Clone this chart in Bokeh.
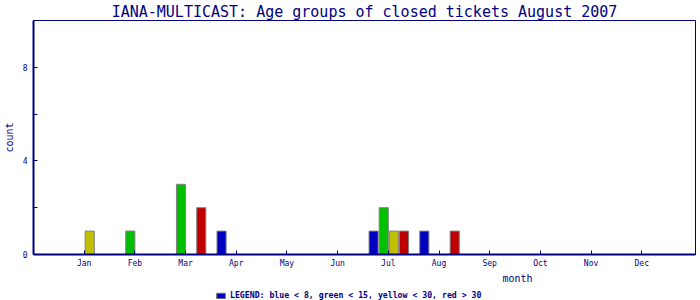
from bokeh.plotting import figure
from bokeh.layouts import column
from bokeh.models import Range1d, FixedTicker, Label, Legend, LegendItem, ColumnDataSource
from bokeh.transform import dodge
from bokeh.core.properties import value
from bokeh.embed import file_html
from bokeh.resources import INLINE

# ---- data ----
months = [1, 2, 3, 4, 5, 6, 7, 8]
month_names = ["Jan", "Feb", "Mar", "Apr", "May", "Jun",
               "Jul", "Aug", "Sep", "Oct", "Nov", "Dec"]
blue = [0, 0, 0, 1, 0, 0, 1, 1]     # age < 8
green = [0, 1, 3, 0, 0, 0, 2, 0]    # age < 15
yellow = [1, 0, 0, 0, 0, 0, 1, 0]   # age < 30
red = [0, 0, 2, 0, 0, 0, 1, 1]      # age > 30
y_ticks = [0, 2, 4, 6, 8]
y_tick_labels = ["0", "", "4", "", "8"]
title_text = "IANA-MULTICAST: Age groups of closed tickets August 2007"
legend_text = "LEGEND: blue < 8, green < 15, yellow < 30, red > 30"
x_label = "month"
y_label = "count"

NAVY = "#000080"
MONO = "DejaVu Sans Mono"
GREY = "#808080"
COLORS = {"blue": "#0000C0", "green": "#00C000", "yellow": "#C0C000", "red": "#C00000"}

src = ColumnDataSource(dict(month=months, blue=blue, green=green, yellow=yellow, red=red))

X_END = 13.06

p = figure(width=700, height=270, output_backend="svg", toolbar_location=None,
           x_range=Range1d(0, X_END), y_range=Range1d(0, 10),
           min_border_left=32, min_border_right=5, min_border_top=20, min_border_bottom=16,
           background_fill_color="white", border_fill_color="white")
p.xgrid.visible = False
p.ygrid.visible = False
p.outline_line_color = NAVY
p.outline_line_width = 1

p.title.text = title_text
p.title.align = "center"
p.title.text_font = MONO
p.title.text_font_size = "15px"
p.title.text_font_style = "normal"
p.title.text_color = NAVY
p.title.standoff = 0
p.title.offset = 0

series = [("blue", -0.29), ("green", -0.09), ("yellow", 0.11), ("red", 0.31)]
for name, off in series:
    p.vbar(x=dodge("month", off), top=name, bottom=0, width=0.18,
           source=src, fill_color=COLORS[name], line_color=GREY, line_width=1)

# axes
p.xaxis.ticker = FixedTicker(ticks=list(range(1, 13)))
p.xaxis.major_label_overrides = {i + 1: n for i, n in enumerate(month_names)}
p.yaxis.ticker = FixedTicker(ticks=y_ticks)
p.yaxis.major_label_overrides = {t: l for t, l in zip(y_ticks, y_tick_labels)}
for ax in (p.xaxis[0], p.yaxis[0]):
    ax.axis_line_color = NAVY
    ax.axis_line_width = 2
    ax.major_tick_line_color = NAVY
    ax.major_tick_in = 4
    ax.major_tick_out = 0
    ax.minor_tick_line_color = None
    ax.major_label_text_font = MONO
    ax.major_label_text_font_size = "8px"
    ax.major_label_text_color = NAVY
p.xaxis.major_label_standoff = 4
p.yaxis.major_label_standoff = 6

p.yaxis.axis_label = y_label
p.yaxis.axis_label_text_font = MONO
p.yaxis.axis_label_text_font_size = "10px"
p.yaxis.axis_label_text_font_style = "normal"
p.yaxis.axis_label_text_color = NAVY
p.yaxis.axis_label_standoff = 5

# ---- bottom strip: axis title and legend ----
# its y range sits far above the data, so the key renderer's bars are clipped away
q = figure(width=700, height=30, output_backend="svg", toolbar_location=None,
           x_range=p.x_range, y_range=Range1d(100, 130),
           x_axis_location=None, y_axis_location=None,
           min_border_left=32, min_border_right=5, min_border_top=0, min_border_bottom=0,
           background_fill_color="white", border_fill_color="white")
q.xgrid.visible = False
q.ygrid.visible = False
q.outline_line_color = None

q.add_layout(Label(x=9.55, y=122, text=x_label, text_align="center", text_baseline="middle",
                   text_font=MONO, text_font_size="10px", text_color=NAVY))

key = q.vbar(x=dodge("month", -0.29), top="blue", bottom=0, width=0.18, source=src,
             fill_color=COLORS["blue"], line_color=GREY, line_width=1)
legend = Legend(items=[LegendItem(label=value(legend_text), renderers=[key])],
                location=(182, 0), orientation="horizontal",
                glyph_width=11, glyph_height=7, label_standoff=4, label_height=10,
                label_text_font=MONO, label_text_font_size="8.2px", label_text_font_style="bold",
                label_text_color=NAVY, padding=0, margin=0, spacing=0,
                border_line_color=None, background_fill_alpha=0)
q.add_layout(legend)

open("out.html", "w").write(file_html(column(p, q, spacing=0), INLINE))
